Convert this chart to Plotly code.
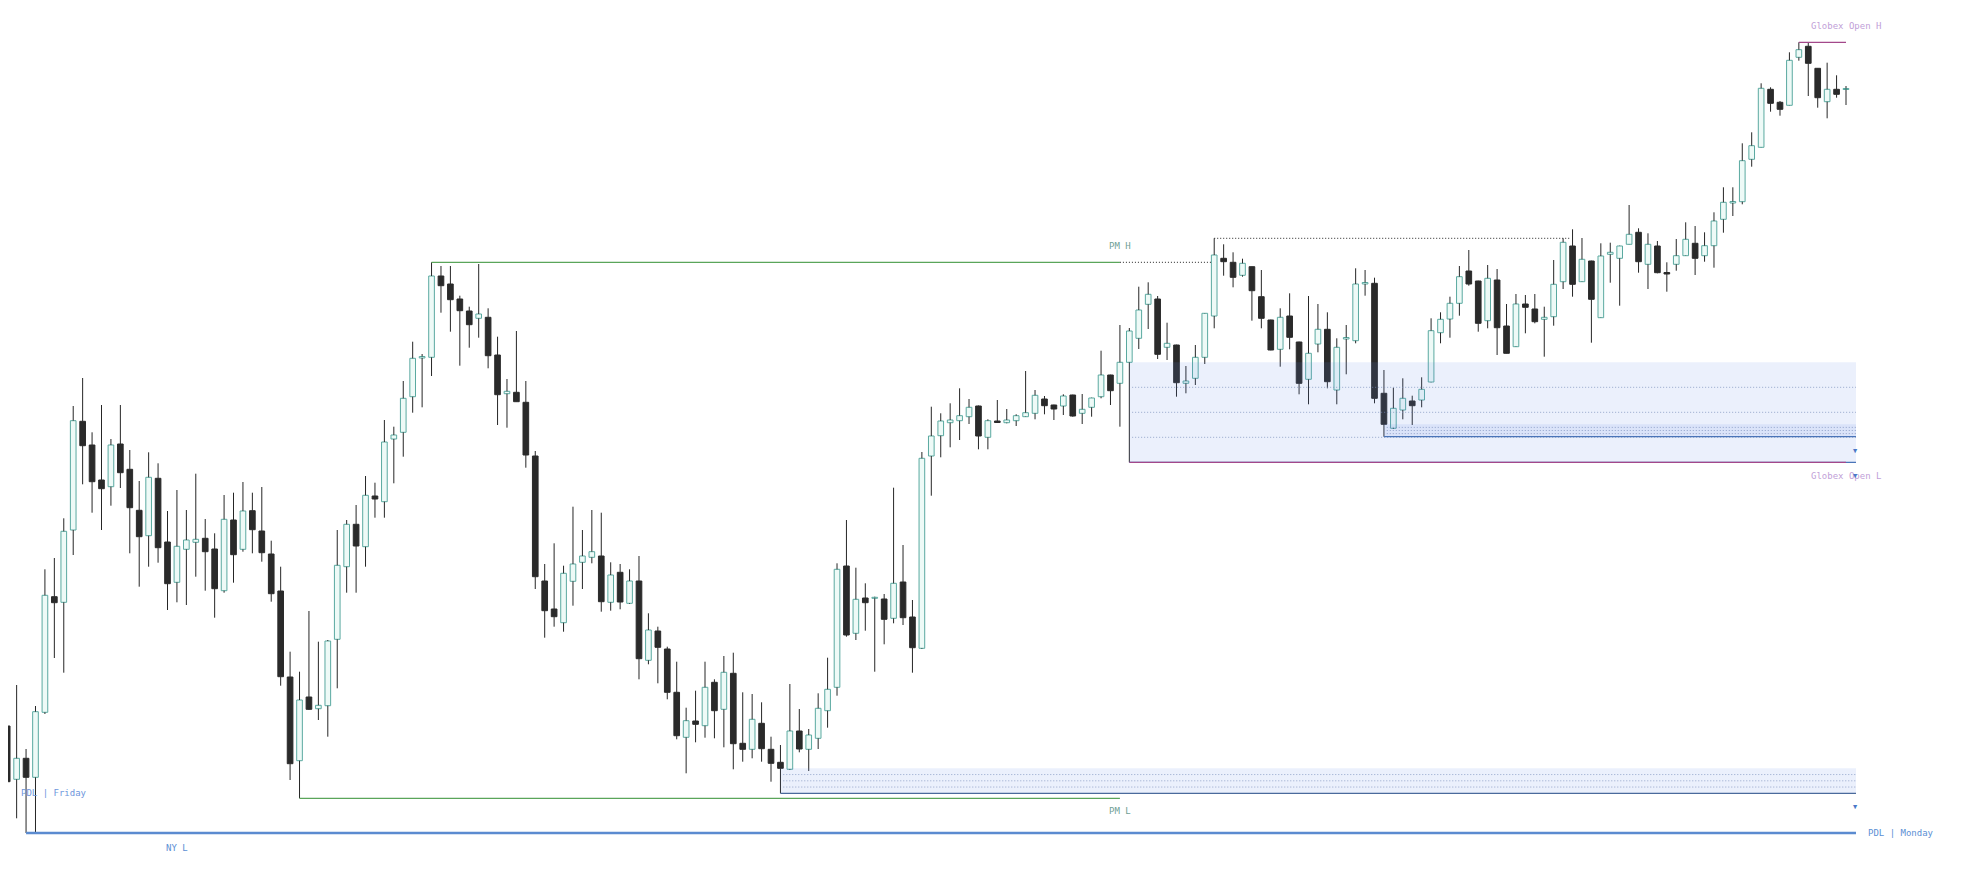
import plotly.graph_objects as go

# candle index: 0 is the first whole candle at the left edge, -1 is cut off
bars = list(range(-1, 196))

opens = [
    265, 174, 120.7, 141.7, 122.7, 187.7, 303.3, 297.7, 370, 478.7,
    455, 420, 413.3, 456, 430.7, 389.7, 364.3, 421.7, 358, 317.7,
    350.7, 357.7, 361.7, 351, 309.3, 380, 350.7, 389.3, 369, 346,
    309, 223, 139.3, 203, 191.3, 194.3, 260.7, 333.3, 375.7, 353.3,
    404, 398.3, 461, 467.7, 503.3, 542, 542.7, 624, 616, 601,
    589, 581.7, 582.7, 545, 506.3, 507.7, 497.7, 444, 319, 291,
    277.3, 318.7, 337.7, 342.7, 344, 297.7, 327.7, 296.7, 319, 239.7,
    269, 251, 207.7, 162.7, 179, 174.3, 217.7, 190.7, 226.7, 156.7,
    150.7, 176.7, 150.7, 137.7, 130.7, 169, 150.7, 161.7, 189.3, 212.7,
    334, 266.7, 302, 301.7, 301, 281.7, 318, 283, 251.7, 444,
    464.3, 477.3, 479.3, 483.3, 494, 462.7, 479, 477.3, 479.3, 483.3,
    486.7, 501, 495, 494, 505, 486.7, 492.7, 503.3, 525, 516.7,
    537.7, 561.7, 595.7, 601, 552.7, 555, 516.7, 521.7, 542.7, 584,
    641.7, 637.7, 624.7, 633.3, 603.3, 580, 550.7, 584, 558, 520.7,
    556, 570.7, 510, 561, 559.3, 616, 616.7, 506.7, 471.7, 490,
    499, 500, 518, 567.3, 581, 596.7, 629, 619, 579.3, 620,
    574, 553.3, 596, 591, 580.7, 583.3, 618.3, 654, 618.3, 639,
    582.3, 645.7, 641.7, 655.7, 667.7, 635.7, 654, 627.5, 635.7, 644.3,
    656.7, 644.3, 654.3, 680.7, 697, 698.3, 740.7, 752.7, 810.7, 797.7,
    794.7, 842.7, 853.7, 831.7, 798.3, 810.7, 810.5,
]
highs = [
    278, 206, 215, 151, 194, 330.7, 342, 381.7, 494, 522,
    467.7, 495, 461, 495, 450, 419, 447.7, 436.7, 389, 410,
    390, 426.3, 381, 366.7, 405, 407.3, 418, 407.3, 413, 359.3,
    333.3, 248.3, 228.3, 289, 258.3, 260, 370, 380, 395, 424,
    417.3, 480, 473.3, 519, 558.3, 546, 637.7, 634, 634, 604.3,
    593.3, 636, 591.7, 563.3, 521, 569, 519, 449, 336, 356.7,
    334.3, 393.3, 370, 390, 387.3, 337.7, 336, 330.7, 344, 286.7,
    273.3, 253.3, 238.3, 192.3, 209.3, 238.3, 220.7, 244, 247.3, 207.7,
    206, 197.7, 163.3, 155, 216, 191, 171, 206.7, 242.3, 336.7,
    380, 332.3, 316.7, 303.3, 306, 412.3, 355, 300, 448, 493.3,
    486.7, 496.7, 511.7, 501, 494.5, 480.7, 500, 491, 485.7, 529,
    510, 504, 495.3, 505.7, 505.3, 506, 502.3, 549.3, 525.3, 575,
    572, 613.3, 617.7, 604, 577.3, 555.3, 534, 555, 587, 661.7,
    655.7, 647.7, 641.3, 633.5, 630, 580.3, 591.7, 606.7, 558.3, 604,
    596, 587.7, 561.7, 575, 631.7, 630, 622.3, 530, 512.3, 521.7,
    504.3, 522.7, 581.7, 587.7, 603.3, 634, 650, 619.3, 635, 631,
    596, 606, 605, 606, 593.3, 640, 661.7, 670.7, 662, 639.3,
    656.7, 657.3, 654.3, 695, 671.7, 666.7, 659, 637.7, 661, 677.7,
    674, 667.7, 687.7, 712.7, 712.7, 756.7, 767.7, 816.7, 812.7, 799,
    847.7, 857.7, 857, 832, 837.3, 824.7, 814,
]
lows = [
    173, 90.7, 81.7, 67, 68, 186, 242, 227.3, 345, 415.7,
    387.3, 370, 394.3, 412, 346.7, 313.3, 333.3, 337.3, 290, 297.7,
    295, 323.3, 309.3, 282.3, 307.3, 317.3, 348.3, 346.7, 338.3, 298.3,
    214.3, 120, 101.7, 190, 180, 163.3, 211.7, 307.3, 307.3, 333.3,
    382.3, 382.3, 416.7, 443.3, 487.3, 492.7, 524, 587.3, 568.3, 534.3,
    552.3, 562.3, 531.7, 475, 472.3, 498, 432.3, 311, 262.3, 273.3,
    268.3, 294.3, 311, 336.7, 288.3, 289.3, 290.7, 296, 220.7, 235.7,
    216.7, 200.7, 160.7, 126.7, 157.7, 162.3, 161.7, 152.7, 130.7, 138.3,
    141.7, 138.3, 118.3, 106.7, 130, 147.7, 129, 151, 172.3, 204.3,
    263.3, 260, 269.3, 228.3, 255.7, 276.7, 275, 227.3, 251, 404.3,
    442.7, 452.7, 460, 476, 450.7, 450.7, 477, 476.7, 474, 483,
    480.7, 485.7, 480, 485, 483.3, 476, 483.3, 501.7, 495, 473.3,
    437.7, 551, 571, 541, 540, 503.3, 506.7, 515, 536, 571.7,
    624.3, 612.7, 623.3, 579.3, 571.7, 549.7, 533.3, 550.7, 505.7, 495.7,
    547.7, 511.7, 495.7, 525.7, 556.7, 604.3, 496.7, 463.3, 471, 480.7,
    475, 492.7, 517.7, 556.7, 562.3, 584.3, 614.3, 568.3, 571.7, 545,
    546.5, 553, 566.7, 576.7, 543.3, 574.3, 611, 603.3, 618, 557.3,
    582, 617.3, 594.3, 655.5, 627.3, 611, 626.7, 608.3, 629.3, 644,
    625, 638.3, 632.3, 667.3, 684, 695.7, 733.3, 752.5, 788.3, 784.3,
    794.5, 839.3, 804, 792.3, 781.7, 802.3, 795,
]
closes = [
    190, 118.3, 141.7, 122.7, 188.3, 304.7, 297.3, 368.7, 479.3, 454.3,
    418.3, 411.3, 455, 427.3, 392.3, 363.3, 422.7, 352.3, 316.3, 353.7,
    360, 360.7, 348.3, 311.3, 380.7, 345.3, 389, 370.3, 347.3, 306.3,
    223.3, 136.3, 200, 190.7, 194.7, 259, 334.7, 375.7, 354, 404.7,
    401, 458, 465, 501.7, 541.7, 543.5, 624, 614.3, 600.3, 589.3,
    575.3, 586, 544.3, 505.3, 508.7, 498.3, 445, 323.3, 289.3, 283.3,
    326.7, 336, 344, 348.3, 298.3, 325, 298, 319, 241.3, 270,
    252.7, 207.7, 164.3, 179.3, 175.7, 212.7, 189.3, 227.7, 156.3, 150.7,
    180.7, 151.3, 136.7, 131.7, 169, 151, 165, 191.7, 210.7, 330.7,
    265, 300.7, 297.3, 302.7, 280.7, 316.7, 282.3, 252.3, 441.7, 464,
    479, 480, 484.3, 492.7, 464, 479.3, 477.5, 480, 484.3, 487.3,
    504.7, 494.3, 491, 504, 484, 490.7, 502, 525, 509.3, 537.7,
    569, 590, 605.7, 545.7, 556.7, 517.3, 519, 542.7, 586.7, 645,
    638.3, 622.7, 636.7, 609.3, 581.7, 550, 582.7, 562.7, 516.7, 546.7,
    570.7, 518.3, 552.7, 562.5, 616, 617.5, 501.7, 475.7, 491.7, 501.7,
    494.3, 510.7, 569.3, 580.7, 596.7, 623.3, 616, 576.7, 621.7, 572.3,
    546.7, 596, 592.7, 578.3, 582.7, 615.7, 657.7, 615.7, 640.7, 600.7,
    644, 647.7, 654, 665.7, 638.3, 655.7, 627.3, 626, 644.3, 660.7,
    641.7, 654.3, 679, 697.7, 698.5, 739.3, 754.3, 811.7, 796.7, 790.7,
    839.7, 850.3, 836.7, 802.3, 810.7, 805.7, 811.5,
]

# key candles the levels come from
pm_high_bar, pm_low_bar = 45, 31
ny_low_bar = 2
globex_open_bar, globex_high_bar = 119, 190
retest_bar = 128
pm_line_end = 118
retest_line_end = 165.8
pdl_friday = 106.7

# wick zones (body bottom to low) of these candles
zone_bars = [82, 119, 146]
zone_end = 196.06


def at(k):
    return bars.index(k)


pm_high = highs[at(pm_high_bar)]
pm_low = lows[at(pm_low_bar)]
ny_low = lows[at(ny_low_bar)]
retest_high = highs[at(retest_bar)]
globex_high = highs[at(globex_high_bar)]
globex_low = lows[at(globex_open_bar)]

UP_FILL, UP_EDGE = "#eefaf7", "#5aa9a0"
DOWN = "#2a2a2a"
WICK = "#262626"
FONT = "DejaVu Sans Mono"

fig = go.Figure()

# wicks, drawn outside the bodies only
wx, wy = [], []
for k, o, h, l, c in zip(bars, opens, highs, lows, closes):
    top, bot = max(o, c), min(o, c)
    wx += [k, k, None, k, k, None]
    wy += [h, top, None, bot, l, None]
fig.add_trace(go.Scatter(x=wx, y=wy, mode="lines",
                         line=dict(color=WICK, width=1), hoverinfo="skip"))

up = [c >= o for o, c in zip(opens, closes)]
fig.add_trace(go.Bar(
    x=bars,
    y=[abs(c - o) for o, c in zip(opens, closes)],
    base=[min(o, c) for o, c in zip(opens, closes)],
    width=0.6,
    marker=dict(color=[UP_FILL if u else DOWN for u in up],
                line=dict(color=[UP_EDGE if u else DOWN for u in up], width=1)),
    hoverinfo="skip",
))

shapes = []


def hline(x0, x1, y, color, width=1, dash="solid", layer="above"):
    shapes.append(dict(type="line", xref="x", yref="y", x0=x0, x1=x1, y0=y, y1=y,
                       line=dict(color=color, width=width, dash=dash), layer=layer))


# wick zones
for n, k in enumerate(zone_bars):
    i = at(k)
    top, bot = min(opens[i], closes[i]), lows[i]
    fill = "rgba(100,140,230,0.13)" if n != 2 else "rgba(100,140,230,0.12)"
    shapes.append(dict(type="rect", xref="x", yref="y", x0=k, x1=zone_end,
                       y0=bot, y1=top, fillcolor=fill, line=dict(width=0),
                       layer="above"))
    for q in (0.25, 0.5, 0.75):
        hline(k + 0.3, zone_end, bot + (top - bot) * q,
              "rgba(120,140,185,0.75)", 1, "1px,2px")
    hline(k, zone_end, bot, "#4a74b8" if n != 0 else "#4a6a9c", 1.3)

# session levels
hline(pm_high_bar, pm_line_end, pm_high, "#5aa55a", 1.3)
hline(pm_line_end, retest_bar - 0.3, pm_high, "#222222", 1, "1px,2px")
hline(retest_bar, retest_line_end, retest_high, "#222222", 1, "1px,2px")
hline(pm_low_bar, pm_line_end, pm_low, "#5aa55a", 1.3)
hline(ny_low_bar, zone_end, ny_low, "#5b8bd0", 2.4)
hline(-1, 0.04, pdl_friday, "#5b8bd0", 2)
hline(globex_high_bar, 195, globex_high, "#a3488a", 1.3)
hline(globex_open_bar, 195, globex_low, "#a3488a", 1.3)

notes = [
    ("PM H", pm_line_end, pm_high, 16, "center", 0, "#6fa096"),
    ("PM L", pm_line_end, pm_low, -13, "center", 0, "#6fa096"),
    ("NY L", 18, ny_low, -15, "center", 0, "#5b8fd4"),
    ("PDL | Monday", zone_end, ny_low, 0, "left", 10, "#5b8fd4"),
    ("PDL | Friday", 1.34, pdl_friday, 0, "left", -1, "#6e96dc"),
    ("Globex Open H", 195, globex_high, 16, "center", 0, "#bfa0d8"),
    ("Globex Open L", 195, globex_low, -14, "center", 0, "#bfa0d8"),
]
annotations = []
for text, x, y, ys, xa, xs, col in notes:
    annotations.append(dict(text=text, x=x, y=y, xref="x", yref="y",
                            showarrow=False, xanchor=xa, yanchor="middle",
                            xshift=xs, yshift=ys,
                            font=dict(family=FONT, size=9, color=col)))
for k in zone_bars:
    annotations.append(dict(text="▼", x=zone_end, y=lows[at(k)], xref="x", yref="y",
                            showarrow=False, xanchor="center", yanchor="middle",
                            yshift=-14, font=dict(family=FONT, size=7, color="#4a78c8")))

# the page body keeps an 8px margin, so the figure is 16px smaller than the window
fig.update_layout(
    width=1962, height=867,
    margin=dict(l=0, r=0, t=0, b=0),
    paper_bgcolor="white", plot_bgcolor="white",
    showlegend=False, hovermode=False,
    shapes=shapes, annotations=annotations,
    xaxis=dict(range=[0.085, 208.15], visible=False, fixedrange=True),
    yaxis=dict(range=[25, 892], visible=False, fixedrange=True),
)

fig.write_html("out.html")
